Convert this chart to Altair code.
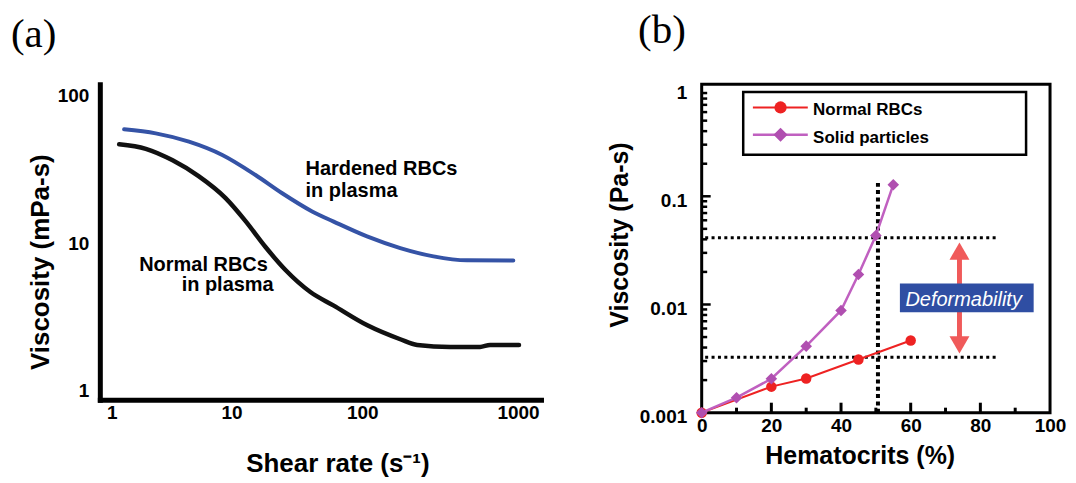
import altair as alt
import pandas as pd

# ---------------- panel (a): viscosity vs shear rate ----------------
shear_normal = [1.30, 2.05, 3.24, 5.05, 8.01, 11.27, 15.85, 22.3, 34.1, 50.5, 90.3, 158.5, 211.8, 372, 620, 735, 1206]
visc_normal = [46.9, 43.7, 36.5, 28.5, 20.2, 14.1, 9.40, 6.56, 4.65, 3.77, 2.76, 2.22, 2.03, 1.97, 1.97, 2.03, 2.03]
shear_hardened = [1.414, 2.428, 4.284, 7.573, 13.36, 21.07, 35.15, 50.8, 89.8, 158.5, 279.7, 494.5, 1094]
visc_hardened = [59.3, 55.7, 48.9, 39.7, 29.0, 21.8, 16.4, 14.0, 11.1, 9.25, 8.12, 7.63, 7.61]
ann_a_text = ["Hardened RBCs", "in plasma", "Normal RBCs", "in plasma"]
ann_a_shear = [31.4, 31.4, 1.83, 3.78]
ann_a_visc = [29.0, 20.7, 6.43, 4.70]
x_ticks_a = [1, 10, 100, 1000]
y_ticks_a = [1, 10, 100]

# ---------------- panel (b): viscosity vs hematocrit ----------------
hct_normal = [0, 20, 30, 45, 60]
visc_normal_b = [0.001, 0.00174, 0.00207, 0.0031, 0.00465]
hct_solid = [0, 10, 20, 30, 40, 45, 50, 55]
visc_solid = [0.001, 0.001375, 0.00206, 0.00412, 0.0088, 0.0189, 0.0434, 0.128]
legend_labels = ["Normal RBCs", "Solid particles"]
guide_visc = [0.0413, 0.00326]
guide_hct_range = [1, 84.5]
guide_hct = [50.6]
guide_visc_range = [0.001, 0.133]
arrow_hct = [74]
arrow_visc = [0.00331, 0.0398]
box_hct = [56.9, 95.3]
box_visc = [0.00849, 0.0156]
box_label = ["Deformability"]
box_label_pos = [75.2, 0.0110]
x_ticks_b = [0, 20, 40, 60, 80, 100]
y_ticks_b = [0.001, 0.01, 0.1, 1]
x_minor_major = [20, 40, 60, 80]
x_minor_small = [10, 30, 50, 70, 90]
y_minor_major = [0.01, 0.1]
y_minor_small = [0.002, 0.003, 0.004, 0.005, 0.006, 0.007, 0.008, 0.009,
                 0.02, 0.03, 0.04, 0.05, 0.06, 0.07, 0.08, 0.09,
                 0.2, 0.3, 0.4, 0.5, 0.6, 0.7, 0.8, 0.9]

FONT = "Liberation Sans"
SERIF = "Liberation Serif"
RED = "#ee2222"
PURPLE_LINE = "#c060c0"
PURPLE = "#b04fb0"
ARROW = "#f05a5a"
BOXBLUE = "#2f4ea3"

W_A, H_A = 442, 316
W_B, H_B = 349, 329

# ---------------- scales & axes (a) ----------------
xs_a = alt.Scale(type="log", domain=[0.934, 1756], nice=False)
ys_a = alt.Scale(type="log", domain=[0.862, 120], nice=False)

ax_xa = alt.Axis(values=x_ticks_a, format="~g", title="Shear rate (s\u207b\u00b9)", grid=False, ticks=False,
                 tickSize=0, domainColor="black", domainWidth=5, domainCap="square",
                 labelFont=FONT, labelFontSize=19, labelFontWeight="bold", labelColor="black",
                 labelPadding=4, labelFlush=False, labelOverlap=False,
                 labelOffset={"condition": [{"test": "datum.value == 1", "value": 8},
                                            {"test": "datum.value == 10", "value": -7},
                                            {"test": "datum.value == 100", "value": -11}],
                              "value": 10},
                 titleFont=FONT, titleFontSize=26, titleFontWeight="bold", titleColor="black",
                 titleX=238, titleY=51, titleBaseline="top")
ax_ya = alt.Axis(values=y_ticks_a, format="~g", title="Viscosity (mPa-s)", grid=False, ticks=False,
                 tickSize=0, domainColor="black", domainWidth=5, domainCap="square",
                 labelFont=FONT, labelFontSize=19, labelFontWeight="bold", labelColor="black",
                 labelPadding=11, labelFlush=False, labelOverlap=False,
                 titleFont=FONT, titleFontSize=26, titleFontWeight="bold", titleColor="black",
                 titleX=-46, titleY=177.7, titleAngle=270, titleBaseline="bottom")

XA = alt.X("x:Q", scale=xs_a, axis=ax_xa)
YA = alt.Y("y:Q", scale=ys_a, axis=ax_ya)

df_na = pd.DataFrame({"x": shear_normal, "y": visc_normal})
df_ha = pd.DataFrame({"x": shear_hardened, "y": visc_hardened})
df_ann = pd.DataFrame({"x": ann_a_shear, "y": ann_a_visc, "t": ann_a_text})
one = pd.DataFrame({"k": [0]})

line_hard = alt.Chart(df_ha).mark_line(color="#3553a6", strokeWidth=4, interpolate="monotone",
                                       strokeCap="round").encode(x=XA, y=YA)
line_norm = alt.Chart(df_na).mark_line(color="#111111", strokeWidth=4.5, interpolate="monotone",
                                       strokeCap="round").encode(x=XA, y=YA)
ann_a = alt.Chart(df_ann).mark_text(align="left", baseline="alphabetic", font=FONT, fontSize=20,
                                    fontWeight="bold", color="black").encode(x=XA, y=YA, text="t:N")
label_a = alt.Chart(pd.DataFrame({"t": ["(a)"]})).mark_text(
    align="left", baseline="top", font=SERIF, fontSize=41, color="black"
).encode(x=alt.value(-89), y=alt.value(-69.8), text="t:N")

left = alt.layer(line_hard, line_norm, ann_a, label_a).properties(width=W_A, height=H_A)

# ---------------- scales & axes (b) ----------------
xs_b = alt.Scale(domain=[0, 100], nice=False, zero=False)
ys_b = alt.Scale(type="log", domain=[0.001, 1.084], nice=False)

ax_xb = alt.Axis(values=x_ticks_b, format="d", title="Hematocrits (%)", grid=False, ticks=False,
                 tickSize=0, domain=False,
                 labelFont=FONT, labelFontSize=19, labelFontWeight="bold", labelColor="black",
                 labelPadding=4, labelFlush=False, labelOverlap=False,
                 titleFont=FONT, titleFontSize=25, titleFontWeight="bold", titleColor="black",
                 titleX=158.3, titleY=31, titleBaseline="top")
ax_yb = alt.Axis(values=y_ticks_b, format="~g", title="Viscosity (Pa-s)", grid=False, ticks=False,
                 tickSize=0, domain=False,
                 labelFont=FONT, labelFontSize=19, labelFontWeight="bold", labelColor="black",
                 labelPadding=15, labelOffset=4, labelFlush=False, labelOverlap=False,
                 titleFont=FONT, titleFontSize=25, titleFontWeight="bold", titleColor="black",
                 titleX=-69.7, titleY=150.5, titleAngle=270, titleBaseline="bottom")

XB = alt.X("x:Q", scale=xs_b, axis=ax_xb)
YB = alt.Y("y:Q", scale=ys_b, axis=ax_yb)
XB2 = alt.X2("x2:Q")
YB2 = alt.Y2("y2:Q")

df_nb = pd.DataFrame({"x": hct_normal, "y": visc_normal_b})
df_sb = pd.DataFrame({"x": hct_solid, "y": visc_solid})
df_h = pd.DataFrame({"x": [guide_hct_range[0]] * 2, "x2": [guide_hct_range[1]] * 2, "y": guide_visc})
df_v = pd.DataFrame({"x": guide_hct, "y": [guide_visc_range[0]], "y2": [guide_visc_range[1]]})
df_arrow = pd.DataFrame({"x": arrow_hct, "y": [arrow_visc[1]], "y2": [arrow_visc[0]]})
df_up = pd.DataFrame({"x": arrow_hct, "y": [arrow_visc[1]]})
df_dn = pd.DataFrame({"x": arrow_hct, "y": [arrow_visc[0]]})
df_box = pd.DataFrame({"x": [box_hct[0]], "x2": [box_hct[1]], "y": [box_visc[1]], "y2": [box_visc[0]]})
df_boxt = pd.DataFrame({"x": [box_label_pos[0]], "y": [box_label_pos[1]], "t": box_label})

hlines = alt.Chart(df_h).mark_rule(color="black", strokeWidth=3, strokeDash=[3, 3.4]).encode(x=XB, x2=XB2, y=YB)
vline = alt.Chart(df_v).mark_rule(color="black", strokeWidth=4, strokeDash=[4, 3.3]).encode(x=XB, y=YB, y2=YB2)

red_line = alt.Chart(df_nb).mark_line(color=RED, strokeWidth=2).encode(x=XB, y=YB)
red_pts = alt.Chart(df_nb).mark_point(shape="circle", filled=True, size=110, color=RED, opacity=1).encode(x=XB, y=YB)
pur_line = alt.Chart(df_sb).mark_line(color=PURPLE_LINE, strokeWidth=2.5).encode(x=XB, y=YB)
pur_pts = alt.Chart(df_sb).mark_point(shape="diamond", filled=True, size=135, color=PURPLE, opacity=1).encode(x=XB, y=YB)

tick_x_major = alt.Chart(pd.DataFrame({"x": x_minor_major})).mark_rule(color="black", strokeWidth=3).encode(
    x=XB, y=alt.value(H_B), y2=alt.value(H_B - 10))
tick_x_minor = alt.Chart(pd.DataFrame({"x": x_minor_small})).mark_rule(color="black", strokeWidth=3).encode(
    x=XB, y=alt.value(H_B), y2=alt.value(H_B - 5))
tick_y_major = alt.Chart(pd.DataFrame({"y": y_minor_major})).mark_rule(color="black", strokeWidth=2.5).encode(
    y=YB, x=alt.value(0), x2=alt.value(9))
tick_y_minor = alt.Chart(pd.DataFrame({"y": y_minor_small})).mark_rule(color="black", strokeWidth=2.5).encode(
    y=YB, x=alt.value(0), x2=alt.value(5.5))

shaft = alt.Chart(df_arrow).mark_rule(color=ARROW, strokeWidth=5, yOffset=12, y2Offset=-12).encode(x=XB, y=YB, y2=YB2)
head_up = alt.Chart(df_up).mark_point(shape="triangle-up", filled=True, size=400, color=ARROW, opacity=1,
                                      strokeWidth=0, yOffset=11.5).encode(x=XB, y=YB)
head_dn = alt.Chart(df_dn).mark_point(shape="triangle-down", filled=True, size=400, color=ARROW, opacity=1,
                                      strokeWidth=0, yOffset=-11.5).encode(x=XB, y=YB)
box = alt.Chart(df_box).mark_rect(color=BOXBLUE).encode(x=XB, x2=XB2, y=YB, y2=YB2)
box_t = alt.Chart(df_boxt).mark_text(font=FONT, fontSize=20, fontStyle="italic", color="white",
                                     align="center", baseline="middle").encode(x=XB, y=YB, text="t:N")

# legend (drawn as a framed box inside the plot)
leg_box = alt.Chart(one).mark_rect(fill="white", stroke="black", strokeWidth=2.5).encode(
    x=alt.value(41.6), x2=alt.value(325), y=alt.value(7.8), y2=alt.value(70.5))
leg_l1 = alt.Chart(one).mark_rule(color=RED, strokeWidth=2).encode(
    x=alt.value(51.3), x2=alt.value(106.3), y=alt.value(23.2))
leg_l2 = alt.Chart(one).mark_rule(color=PURPLE_LINE, strokeWidth=2.5).encode(
    x=alt.value(51.3), x2=alt.value(106.3), y=alt.value(50.5))
leg_p1 = alt.Chart(one).mark_point(shape="circle", filled=True, size=150, color=RED, opacity=1).encode(
    x=alt.value(79), y=alt.value(23.2))
leg_p2 = alt.Chart(one).mark_point(shape="diamond", filled=True, size=200, color=PURPLE, opacity=1).encode(
    x=alt.value(79), y=alt.value(50.5))
leg_t1 = alt.Chart(pd.DataFrame({"t": [legend_labels[0]]})).mark_text(
    align="left", baseline="middle", font=FONT, fontSize=17, fontWeight="bold", color="black"
).encode(x=alt.value(111.6), y=alt.value(25.5), text="t:N")
leg_t2 = alt.Chart(pd.DataFrame({"t": [legend_labels[1]]})).mark_text(
    align="left", baseline="middle", font=FONT, fontSize=17, fontWeight="bold", color="black"
).encode(x=alt.value(111.6), y=alt.value(53.5), text="t:N")

label_b = alt.Chart(pd.DataFrame({"t": ["(b)"]})).mark_text(
    align="left", baseline="top", font=SERIF, fontSize=41, color="black"
).encode(x=alt.value(-63.7), y=alt.value(-73.5), text="t:N")

right = alt.layer(
    vline, hlines, red_line, red_pts, pur_line, pur_pts,
    tick_x_major, tick_x_minor, tick_y_major, tick_y_minor,
    shaft, head_up, head_dn, box, box_t,
    leg_box, leg_l1, leg_l2, leg_p1, leg_p2, leg_t1, leg_t2, label_b
).properties(width=W_B, height=H_B, view=alt.ViewBackground(stroke="black", strokeWidth=3))

chart = alt.hconcat(left, right, spacing=63).properties(
    padding={"left": 2, "top": 0, "right": 0, "bottom": 0}
).configure_view(stroke="transparent")

chart.save("out.html", embed_options={"renderer": "svg", "actions": False})
